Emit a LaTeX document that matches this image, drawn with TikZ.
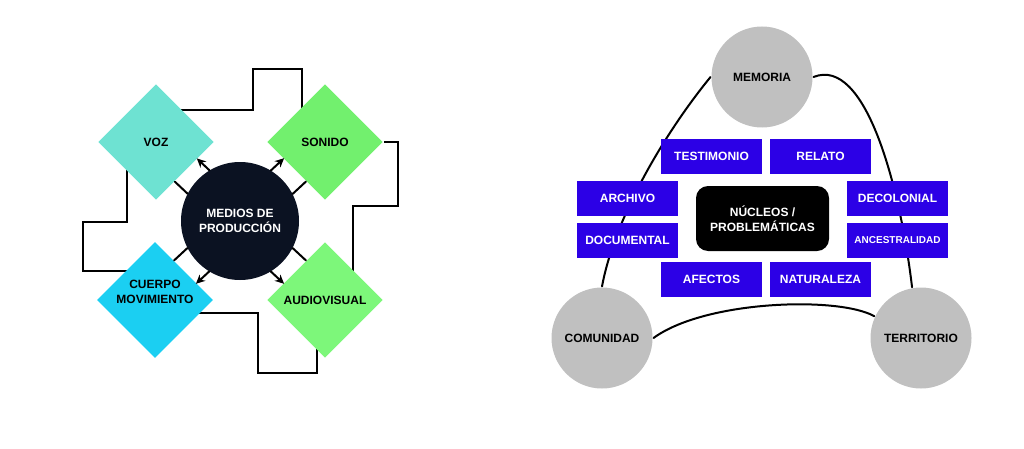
\documentclass[tikz,border=0pt]{standalone}
\usepackage{fontspec}
\setmainfont{Liberation Sans}
\usetikzlibrary{arrows.meta,calc,shapes.geometric,backgrounds}

\definecolor{vozcol}{HTML}{6EE2D2}
\definecolor{sonidocol}{HTML}{72F06E}
\definecolor{cuerpocol}{HTML}{1BCFF2}
\definecolor{avcol}{HTML}{7DF77A}
\definecolor{medioscol}{HTML}{0B1222}
\definecolor{ejecol}{HTML}{C0C0C0}
\definecolor{temacol}{HTML}{2C00E6}

\begin{document}
\begin{tikzpicture}[x=1pt, y=1pt, line width=2pt, line cap=round, line join=round, >={Stealth[length=9pt,width=8.5pt]},
  every node/.style={font=\bfseries\fontsize{12}{15}\selectfont, align=center, inner sep=0pt},
  medio/.style={diamond, aspect=1, minimum width=116pt, minimum height=116pt},
  eje/.style={circle, fill=ejecol, minimum size=101pt},
  tema/.style={rectangle, fill=temacol, text=white, minimum width=101pt, minimum height=35pt}]
  \useasboundingbox (0,0) rectangle (1024,448);

  % medios de produccion
  \node[circle, fill=medioscol, text=white, minimum size=118pt] (medios) at (240,227) {MEDIOS DE\\PRODUCCIÓN};
  \node[medio, fill=vozcol] (voz) at (156,306) {VOZ};
  \node[medio, fill=sonidocol] (sonido) at (325,306) {SONIDO};
  \node[medio, fill=cuerpocol, text depth=16pt] (cuerpo) at (155,148) {CUERPO\\MOVIMIENTO};
  \node[medio, fill=avcol] (audiovisual) at (325,148) {AUDIOVISUAL};

  \foreach \n/\a/\b in {voz/-90/90, sonido/90/-90, cuerpo/90/-90, audiovisual/-90/90} {
    \draw[->, shorten <=57pt, shorten >=41pt] ($(medios)!16pt!\a:(\n)$) -- ($(\n)!16pt!\b:(medios)$);
    \draw[shorten <=57pt, shorten >=41pt] ($(medios)!16pt!\b:(\n)$) -- ($(\n)!16pt!\a:(medios)$);
  }

  \begin{scope}[on background layer={line width=2pt, line cap=butt, line join=miter}]
    \draw ($(voz)+(0,32)$) -| (253,379) -| ($(sonido)+(-23,0)$);
    \draw (sonido) -| (398,242) -| ($(audiovisual)+(28,0)$);
    \draw ($(audiovisual)+(-8,0)$) |- (258,75) |- ($(cuerpo)+(0,-13)$);
    \draw ($(cuerpo)+(0,29)$) -| (83,226) -| ($(voz)+(-29,0)$);
  \end{scope}

  % nucleos
  \node[eje] (memoria) at (762,371) {MEMORIA};
  \node[eje] (comunidad) at (602,110) {COMUNIDAD};
  \node[eje] (territorio) at (921,110) {TERRITORIO};

  \node[rectangle, rounded corners=12pt, fill=black, text=white, minimum width=133pt, minimum height=65pt] (nucleos) at (762.5,229.5) {NÚCLEOS /\\PROBLEMÁTICAS};

  \node[tema] (testimonio) at (711.5,291.5) {TESTIMONIO};
  \node[tema] (relato) at (820.5,291.5) {RELATO};
  \node[tema] (archivo) at (627.5,249.5) {ARCHIVO};
  \node[tema] (documental) at (627.5,207.5) {DOCUMENTAL};
  \node[tema] (decolonial) at (897.5,249.5) {DECOLONIAL};
  \node[tema, font=\bfseries\fontsize{10}{12}\selectfont] (ancestralidad) at (897.5,208) {ANCESTRALIDAD};
  \node[tema] (afectos) at (711.5,168.5) {AFECTOS};
  \node[tema] (naturaleza) at (820.5,168.5) {NATURALEZA};

  \begin{scope}[on background layer={line width=2pt, line cap=round}]
    \draw (memoria.west) .. controls +(-45,-55) and +(13,70) .. (comunidad.north);
    \draw (memoria.east) .. controls +(52,21) and +(-12,101) .. (territorio.100);
    \draw (comunidad.east) .. controls +(52,38) and +(-35,20) .. (territorio.155);
  \end{scope}
\end{tikzpicture}
\end{document}
